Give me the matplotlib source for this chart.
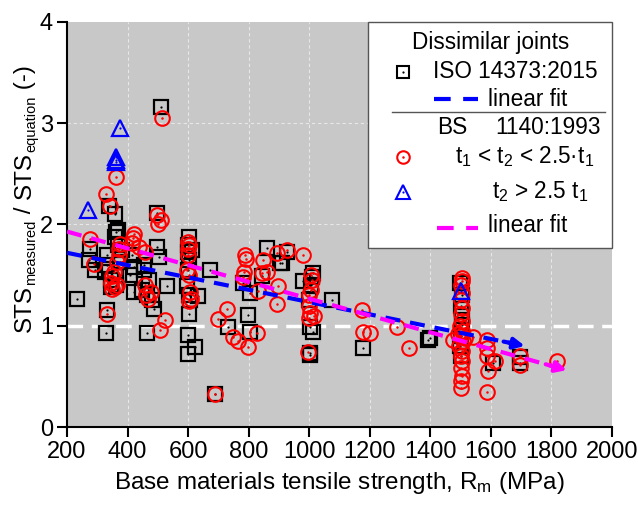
import matplotlib
matplotlib.use("Agg")
import matplotlib.pyplot as plt
from matplotlib.lines import Line2D
from matplotlib.patches import Rectangle
import numpy as np

plt.rcParams['font.family'] = ['Liberation Sans', 'DejaVu Sans']
plt.rcParams['mathtext.fontset'] = 'custom'
plt.rcParams['mathtext.rm'] = 'Liberation Sans'
plt.rcParams['mathtext.it'] = 'Liberation Sans'

# ISO 14373:2015 (squares)
iso_x = [233, 272, 277, 293, 330, 332, 327, 332, 332, 338, 345, 345, 360, 363, 358, 368, 362, 370,
         375, 372, 380, 409, 415, 420, 420, 448, 453, 455, 465, 470, 465, 481, 486, 497, 503, 496,
         510, 530, 602, 600, 600, 602, 598, 596, 602, 600, 600, 604, 606, 612, 623, 634, 672, 689,
         733, 782, 799, 804, 804, 843, 859, 903, 909, 925, 980, 1002, 1002, 1013, 1013, 1002, 998,
         1005, 1010, 1074, 1178, 1392, 1399, 1498, 1503, 1500, 1503, 1503, 1500, 1497, 1500, 1608,
         1696, 1696]
iso_y = [1.26, 1.65, 1.76, 1.55, 0.93, 1.16, 1.53, 1.60, 1.70, 2.18, 1.38, 1.45, 2.10, 1.93, 1.88,
         1.80, 1.40, 1.95, 1.63, 1.50, 1.75, 1.50, 1.70, 1.58, 1.33, 1.35, 1.55, 1.60, 0.93, 1.45,
         1.30, 1.25, 1.17, 1.78, 1.68, 2.11, 3.16, 1.39, 1.88, 1.80, 1.73, 1.65, 1.55, 1.39, 1.12,
         0.91, 0.72, 1.30, 1.25, 1.75, 0.79, 1.29, 1.55, 0.33, 0.99, 1.42, 1.11, 1.32, 0.94, 1.49,
         1.77, 1.62, 1.62, 1.73, 1.44, 0.73, 0.99, 1.52, 0.94, 0.71, 1.25, 1.40, 1.48, 1.25, 0.78,
         0.86, 0.88, 1.42, 1.30, 1.20, 1.10, 1.01, 0.90, 0.80, 0.70, 0.63, 0.63, 0.69]

# BS 1140:1993, t1 < t2 < 2.5 t1 (circles)
bs_x = [514, 363, 330, 341, 497, 510, 500, 275, 288, 420, 418, 415, 376, 372, 373, 365, 437, 459,
        354, 350, 345, 360, 350, 365, 459, 462, 478, 468, 332, 525, 508,
        600, 602, 600, 598, 596, 602, 606, 610, 604, 690,
        788, 790, 848, 892, 925, 980, 785, 780, 845, 860, 832, 898, 892, 727, 700, 749, 765, 799,
        826, 997, 1005, 1008, 1005, 1000, 1000, 1003, 1016, 1000, 1173, 1178, 1200, 1289, 1331,
        1503, 1505, 1500, 1503, 1500, 1505, 1500, 1503, 1497, 1505, 1500, 1508, 1495, 1503, 1500,
        1505, 1500, 1503, 1500, 1500, 1490, 1515, 1476, 1542,
        1586, 1586, 1586, 1590, 1586, 1613, 1696, 1696, 1817]
bs_y = [3.05, 2.47, 2.30, 2.18, 2.09, 2.04, 2.00, 1.86, 1.61, 1.91, 1.87, 1.82, 1.81, 1.76, 1.70,
        1.63, 1.78, 1.73, 1.53, 1.49, 1.42, 1.38, 1.36, 1.40, 1.40, 1.30, 1.33, 1.26, 1.12, 1.06,
        0.96,
        1.83, 1.80, 1.76, 1.70, 1.55, 1.50, 1.33, 1.26, 1.24, 0.33,
        1.70, 1.66, 1.65, 1.72, 1.75, 1.70, 1.53, 1.48, 1.52, 1.53, 1.34, 1.39, 1.21, 1.17, 1.07,
        0.89, 0.85, 0.79, 0.93, 0.74, 1.50, 1.45, 1.35, 1.30, 1.20, 1.13, 1.10, 1.08, 1.16, 0.94,
        0.93, 0.99, 0.78,
        1.47, 1.44, 1.40, 1.32, 1.25, 1.18, 1.12, 1.05, 1.00, 0.95, 0.90, 0.85, 0.80, 0.75, 0.70,
        0.65, 0.58, 0.50, 0.45, 0.39, 0.92, 0.88, 0.86, 0.89,
        0.86, 0.78, 0.70, 0.55, 0.35, 0.65, 0.70, 0.61, 0.65]

# BS 1140:1993, t2 > 2.5 t1 (triangles)
tri_x = [270, 374, 363, 363, 363, 1500]
tri_y = [2.14, 2.95, 2.67, 2.64, 2.62, 1.34]

# linear fits: (intercept, slope, x_start, x_end)
iso_fit = (1.842, -0.000608, 200, 1712)
bs_fit = (2.096, -0.000829, 200, 1851)

xticks = [200, 400, 600, 800, 1000, 1200, 1400, 1600, 1800, 2000]
yticks = [0, 1, 2, 3, 4]

W, H = 638, 505
fig = plt.figure(figsize=(W / 100, H / 100), dpi=100)
ax = fig.add_axes([67 / W, 1 - 427 / H, (612 - 67) / W, (427 - 22) / H])
ax.set_facecolor('#c8c8c8')
ax.set_xlim(200, 2000)
ax.set_ylim(0, 4)

for xv in xticks[1:-1]:
    ax.axvline(xv, color='#e8e8e8', lw=0.8, dashes=(3, 2.5), zorder=1)
for yv in [2, 3]:
    ax.axhline(yv, color='#e8e8e8', lw=0.8, dashes=(3, 2.5), zorder=1)
ax.axhline(1, color='white', lw=2.5, dashes=(4.5, 2.5), zorder=1.5)

ax.plot(iso_x, iso_y, ls='none', marker='s', ms=9.5, mfc='none', mec='black', mew=1.6, zorder=3)
ax.plot(iso_x, iso_y, ls='none', marker='o', ms=1.6, mfc='black', mec='black', mew=0, zorder=3)
ax.plot(bs_x, bs_y, ls='none', marker='o', ms=10.5, mfc='none', mec='red', mew=1.5, zorder=4)
ax.plot(bs_x, bs_y, ls='none', marker='o', ms=1.8, mfc='red', mec='red', mew=0, zorder=4)
ax.plot(tri_x, tri_y, ls='none', marker='^', ms=11, mfc='none', mec='blue', mew=1.6, zorder=5)
ax.plot(tri_x, tri_y, ls='none', marker='o', ms=1.6, mfc='blue', mec='blue', mew=0, zorder=5)

for (b0, b1, xs, xe), col in [(iso_fit, 'blue'), (bs_fit, 'magenta')]:
    xx = np.array([xs, xe - 40])
    ax.plot(xx, b0 + b1 * xx, color=col, lw=3, dashes=(3.6, 2.4), zorder=6)
    ax.annotate('', xy=(xe, b0 + b1 * xe), xytext=(xe - 70, b0 + b1 * (xe - 70)),
                arrowprops=dict(arrowstyle='-|>', color=col, lw=3, mutation_scale=16,
                                shrinkA=0, shrinkB=0), zorder=6)

for s in ['top', 'right']:
    ax.spines[s].set_visible(False)
for s in ['left', 'bottom']:
    ax.spines[s].set_linewidth(1.5)
ax.set_xticks(xticks)
ax.set_yticks(yticks)
ax.tick_params(direction='out', length=7, width=1.5, labelsize=17, pad=3)
ax.set_xlabel('Base materials tensile strength, R$_\\mathregular{m}$ (MPa)', fontsize=17.5,
              labelpad=5)


def fx(px):
    return px / W


def fy(py):
    return 1 - py / H


# y-axis label built from pieces (large main text, small subscripts)
ylab_pieces = [('STS', 17.5, 0), ('measured', 10.5, 4), (' / ', 17.5, 0), ('STS', 17.5, 0),
               ('equation', 10.5, 4), (' (-)', 17.5, 0)]
renderer = fig.canvas.get_renderer()
y_cur = 332.0
x_base = 31.0
for txt, fs, drop in ylab_pieces:
    t = fig.text(fx(x_base + drop), fy(y_cur), txt, fontsize=fs, rotation=90,
                 rotation_mode='anchor', ha='left', va='baseline')
    ext = t.get_window_extent(renderer)
    y_cur -= ext.height

fig.add_artist(Rectangle((fx(368), fy(248)), fx(612) - fx(368), fy(22) - fy(248),
                         transform=fig.transFigure, facecolor='white', edgecolor='#555555',
                         lw=1.0, zorder=10))
tk = dict(transform=fig.transFigure, fontsize=16.3, zorder=11, va='center')
fig.text(fx(491), fy(43), 'Dissimilar joints', ha='center', **tk)
fig.add_artist(Line2D([fx(403)], [fy(72)], transform=fig.transFigure, marker='s', ms=8,
                      mfc='none', mec='black', mew=1.5, zorder=11))
fig.add_artist(Line2D([fx(403)], [fy(72)], transform=fig.transFigure, marker='o', ms=1.6,
                      mfc='black', mew=0, zorder=11))
fig.text(fx(433), fy(72), 'ISO 14373:2015', ha='left', **tk)
fig.add_artist(Line2D([fx(434), fx(478)], [fy(99), fy(99)], transform=fig.transFigure,
                      color='blue', lw=3, dashes=(4, 3), zorder=11))
fig.text(fx(488), fy(99), 'linear fit', ha='left', **tk)
fig.add_artist(Line2D([fx(392), fx(605)], [fy(112), fy(112)], transform=fig.transFigure,
                      color='#555555', lw=1.0, zorder=11))
fig.text(fx(437), fy(127), 'BS', ha='left', **tk)
fig.text(fx(495), fy(127), '1140:1993', ha='left', **tk)
fig.add_artist(Line2D([fx(403)], [fy(157)], transform=fig.transFigure, marker='o', ms=9,
                      mfc='none', mec='red', mew=1.5, zorder=11))
fig.add_artist(Line2D([fx(403)], [fy(157)], transform=fig.transFigure, marker='o', ms=1.8,
                      mfc='red', mew=0, zorder=11))
fig.text(fx(455), fy(157), 't$_\\mathregular{1}$ < t$_\\mathregular{2}$ < 2.5·t$_\\mathregular{1}$',
         ha='left', **tk)
fig.add_artist(Line2D([fx(403)], [fy(192)], transform=fig.transFigure, marker='^', ms=10,
                      mfc='none', mec='blue', mew=1.5, zorder=11))
fig.add_artist(Line2D([fx(403)], [fy(192)], transform=fig.transFigure, marker='o', ms=1.6,
                      mfc='blue', mew=0, zorder=11))
fig.text(fx(492), fy(192), 't$_\\mathregular{2}$ > 2.5 t$_\\mathregular{1}$', ha='left', **tk)
fig.add_artist(Line2D([fx(437), fx(478)], [fy(228), fy(228)], transform=fig.transFigure,
                      color='magenta', lw=3, dashes=(4, 3), zorder=11))
fig.text(fx(488), fy(226), 'linear fit', ha='left', **tk)

fig.savefig('out.png', dpi=100)
